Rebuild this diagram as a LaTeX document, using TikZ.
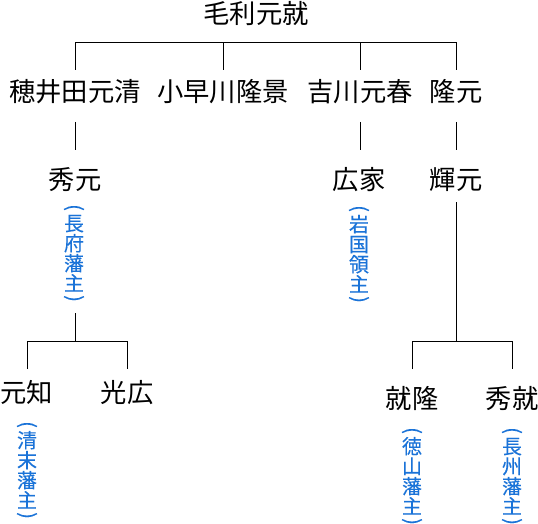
\documentclass[tikz,border=0pt]{standalone}
\usepackage{fontspec}
\usepackage{graphicx}
\setmainfont{Noto Sans CJK JP}
\newfontfamily\fieffont[FakeBold=0.2]{Noto Sans CJK JP}
\definecolor{labblue}{RGB}{26,115,216}
\tikzset{
  person/.style={font=\fontsize{26.3}{26}\selectfont, text height=20pt, text depth=0pt, inner sep=0pt, anchor=center, text=black},
  fief/.style={font=\fieffont\fontsize{20}{20}\selectfont, text=labblue, align=center, inner sep=0pt, anchor=north},
  tree/.style={line width=1pt, black}
}
\newcommand\vpo{\rotatebox[origin=c]{-90}{(}}
\newcommand\vpc{\rotatebox[origin=c]{-90}{)}}
\begin{document}
\begin{tikzpicture}[x=1pt,y=-1pt]
\useasboundingbox[fill=white] (0,0) rectangle (538,524);
% people
\node[person] (mori) at (256,14) {毛利元就};
\node[person] (hoi) at (75,91.5) {穂井田元清};
\node[person] (koba) at (223,91.5) {小早川隆景};
\node[person] (kik) at (360,91.5) {吉川元春};
\node[person] (taka) at (456,91.5) {隆元};
\node[person] (hide) at (75,179) {秀元};
\node[person] (hiro) at (359,179) {広家};
\node[person] (teru) at (456,179) {輝元};
\node[person] (mtm) at (27,392.5) {元知};
\node[person] (mth) at (127,392.5) {光広};
\node[person] (nrt) at (412,398) {就隆};
\node[person] (hdn) at (512,398) {秀就};
% fiefs
\node[fief] (chofu) at (74,204) {\vpo\\[-3pt]長\\府\\藩\\主\\[-6pt]\vpc};
\node[fief] (iwa) at (359,205) {\vpo\\[-3pt]岩\\国\\領\\主\\[-6pt]\vpc};
\node[fief] (kiyo) at (27,421) {\vpo\\[-3pt]清\\末\\藩\\主\\[-6pt]\vpc};
\node[fief] (toku) at (412,427) {\vpo\\[-3pt]徳\\山\\藩\\主\\[-6pt]\vpc};
\node[fief] (chos) at (512,427) {\vpo\\[-3pt]長\\州\\藩\\主\\[-6pt]\vpc};
% levels
\coordinate (b0) at (0,42.5);
\coordinate (e0) at (0,70);
\coordinate (s1) at (0,122);
\coordinate (e1) at (0,150);
\coordinate (s2) at (0,313);
\coordinate (s3) at (0,202);
\coordinate (b2) at (0,341.5);
\coordinate (e2) at (0,369);
% connectors
\draw[tree] (hoi |- e0) -- (hoi |- b0) -- (taka |- b0) -- (taka |- e0);
\draw[tree] (koba |- b0) -- (koba |- e0);
\draw[tree] (kik |- b0) -- (kik |- e0);
\draw[tree] (hoi |- s1) -- (hide |- e1);
\draw[tree] (kik |- s1) -- (kik |- e1);
\draw[tree] (taka |- s1) -- (teru |- e1);
\draw[tree] (hide |- s2) -- (hide |- b2);
\draw[tree] (mtm |- e2) -- (mtm |- b2) -- (mth |- b2) -- (mth |- e2);
\draw[tree] (teru |- s3) -- (teru |- b2);
\draw[tree] (nrt |- e2) -- (nrt |- b2) -- (hdn |- b2) -- (hdn |- e2);
\end{tikzpicture}
\end{document}
